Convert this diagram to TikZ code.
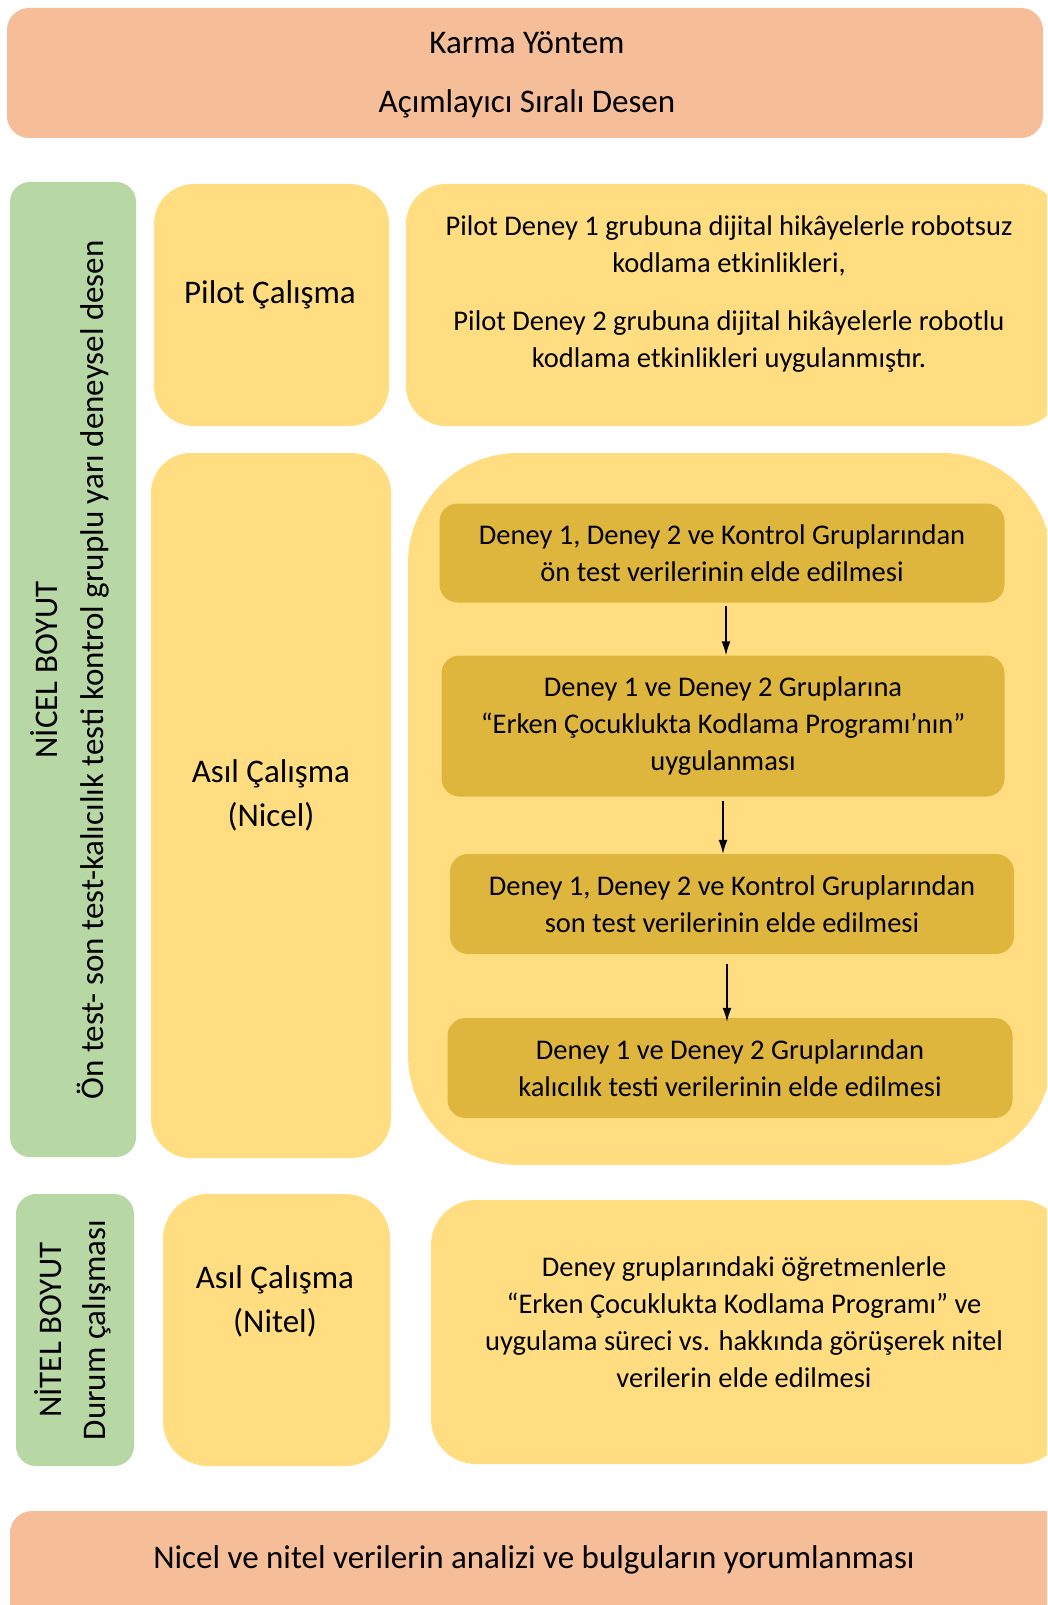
\documentclass[tikz,border=0pt]{standalone}
\usepackage{fontspec}
\setmainfont{Carlito}
\usetikzlibrary{arrows.meta}

\begin{document}
\begin{tikzpicture}[x=1pt, y=-1pt,
  every node/.style={font=\fontsize{28.5}{37}\selectfont, align=center, inner sep=0pt},
  bigtext/.style={font=\fontsize{33}{44}\selectfont},
  stepbox/.style={fill=gold, rounded corners=18pt, minimum width=565pt, minimum height=99pt},
  flow/.style={-{Latex[length=14pt,width=9pt]}, line width=1.4pt}]
  % Colors
  \definecolor{peach}{RGB}{245,189,152}
  \definecolor{sage}{RGB}{183,215,165}
  \definecolor{butter}{RGB}{255,221,128}
  \definecolor{gold}{RGB}{222,182,62}

  % Canvas
  \useasboundingbox (0,0) rectangle (1047,1605);
  \clip (0,0) rectangle (1047,1605);
  \fill[white] (0,0) rectangle (1047,1605);

  % Header
  \fill[peach, rounded corners=22pt] (7,8) rectangle (1043,138);
  \node[bigtext] (method) at (527,43) {Karma Yöntem};
  \node[bigtext] (design) at (527,104) {Açımlayıcı Sıralı Desen};

  % Nicel part
  \fill[sage, rounded corners=20pt] (10,182) rectangle (136,1157);
  \node[rotate=90, font=\fontsize{33}{46}\selectfont] (nicel) at (70,670)
    {NİCEL BOYUT\\Ön test- son test-kalıcılık testi kontrol gruplu yarı deneysel desen};

  \fill[butter, rounded corners=40pt] (154,184) rectangle (389,426);
  \node[bigtext] (pilot) at (270,295) {Pilot Çalışma};
  \fill[butter, rounded corners=40pt] (406,184) rectangle (1060,426);
  \node (pilottext) at (729,294) {Pilot Deney 1 grubuna dijital hikâyelerle robotsuz\\kodlama etkinlikleri,\\[21pt]
    Pilot Deney 2 grubuna dijital hikâyelerle robotlu\\kodlama etkinlikleri uygulanmıştır.};

  \fill[butter, rounded corners=40pt] (151,453) rectangle (391,1158);
  \node[bigtext] (nicelhead) at (271,795) {Asıl Çalışma\\(Nicel)};
  \fill[butter, rounded corners=110pt] (408,453) rectangle (1052,1165);

  % Steps
  \node[stepbox] (pretest) at (722,553)
    {Deney 1, Deney 2 ve Kontrol Gruplarından\\ön test verilerinin elde edilmesi};
  \node[stepbox, minimum height=141pt, minimum width=563pt] (program) at (723,726)
    {Deney 1 ve Deney 2 Gruplarına\\“Erken Çocuklukta Kodlama Programı’nın”\\uygulanması};
  \node[stepbox, minimum height=100pt, minimum width=564pt] (posttest) at (732,904)
    {Deney 1, Deney 2 ve Kontrol Gruplarından\\son test verilerinin elde edilmesi};
  \node[stepbox, minimum height=100pt] (retention) at (730,1068)
    {Deney 1 ve Deney 2 Gruplarından\\kalıcılık testi verilerinin elde edilmesi};

  \draw[flow] ([xshift=4pt, yshift=-3pt]pretest.south) -- ([xshift=4pt]pretest.south |- program.north);
  \draw[flow] ([yshift=-4pt]program.south) -- (program.south |- posttest.north);
  \draw[flow] ([xshift=-5pt, yshift=-10pt]posttest.south) -- ([xshift=-5pt, yshift=-4pt]posttest.south |- retention.north);

  % Nitel part
  \fill[sage, rounded corners=20pt] (16,1194) rectangle (134,1466);
  \node[rotate=90, font=\fontsize{33}{44}\selectfont] (nitel) at (73,1330) {NİTEL BOYUT\\Durum çalışması};
  \fill[butter, rounded corners=45pt] (163,1194) rectangle (390,1466);
  \node[bigtext] (nitelhead) at (275,1301) {Asıl Çalışma\\(Nitel)};
  \fill[butter, rounded corners=45pt] (431,1200) rectangle (1065,1464);
  \node (niteltext) at (744,1322) {Deney gruplarındaki öğretmenlerle\\“Erken Çocuklukta Kodlama Programı” ve\\
    uygulama süreci vs. hakkında görüşerek nitel\\verilerin elde edilmesi};

  % Analysis
  \fill[peach, rounded corners=22pt] (10,1511) rectangle (1070,1640);
  \node[bigtext] (analysis) at (534,1560) {Nicel ve nitel verilerin analizi ve bulguların yorumlanması};
\end{tikzpicture}
\end{document}
